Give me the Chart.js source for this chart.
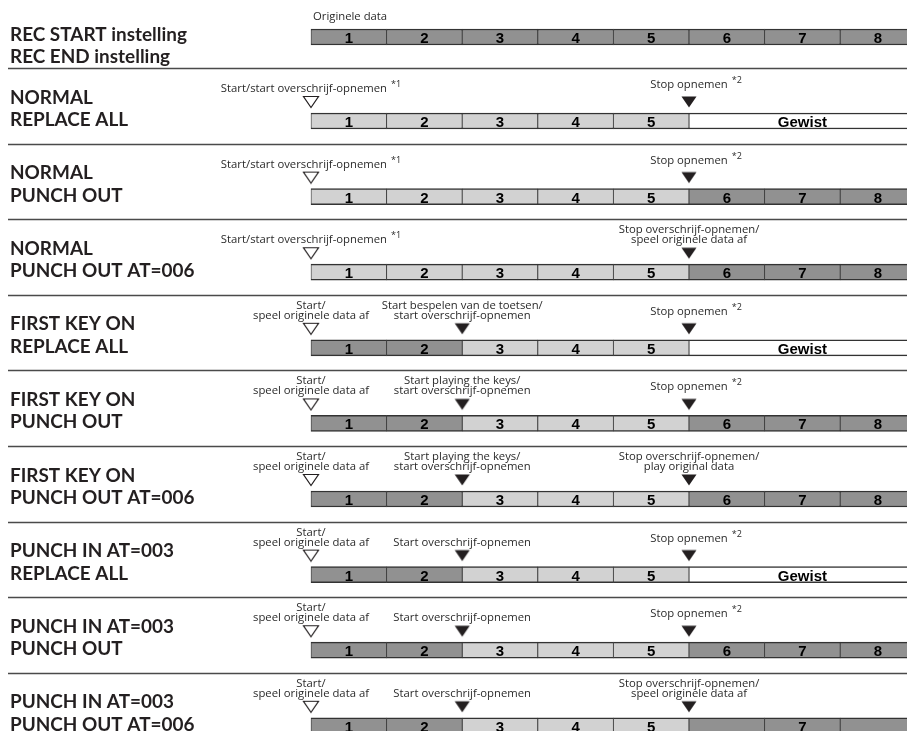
<!DOCTYPE html>
<html><head><meta charset="utf-8">
<script src="https://cdn.jsdelivr.net/npm/chart.js@4.4.0/dist/chart.umd.min.js"></script>
<style>html,body{margin:0;padding:0;background:#fff;}#wrap{width:907px;height:731px;}</style>
</head><body><div id="wrap"><canvas id="c" width="907" height="731"></canvas></div>
<script>
// ---------------- data ----------------
const rowTitles = [
  ["REC START instelling", "REC END instelling"],
  ["NORMAL", "REPLACE ALL"],
  ["NORMAL", "PUNCH OUT"],
  ["NORMAL", "PUNCH OUT AT=006"],
  ["FIRST KEY ON", "REPLACE ALL"],
  ["FIRST KEY ON", "PUNCH OUT"],
  ["FIRST KEY ON", "PUNCH OUT AT=006"],
  ["PUNCH IN AT=003", "REPLACE ALL"],
  ["PUNCH IN AT=003", "PUNCH OUT"],
  ["PUNCH IN AT=003", "PUNCH OUT AT=006"]
];
const measures = [1, 2, 3, 4, 5, 6, 7, 8];
// O = original data, R = recorded (overwritten), E = erased
const measureStatus = [
  "OOOOOOOO", "RRRRREEE", "RRRRROOO", "RRRRROOO", "OORRREEE",
  "OORRROOO", "OORRROOO", "OORRREEE", "OORRROOO", "OORRROOO"
];
const erasedLabel = "Gewist";
const hiddenNumbers = [[], [], [], [], [], [], [], [], [], [6, 8]];
const headerNote = "Originele data";
// marker positions (measure boundaries)
const openStartAt = [null, 0, 0, 0, 0, 0, 0, 0, 0, 0];
const fillStartAt = [null, null, null, null, 2, 2, 2, 2, 2, 2];
const stopAt      = [null, 5, 5, 5, 5, 5, 5, 5, 5, 5];
// marker notes
const startNotes = [null,
  ["Start/start overschrijf-opnemen"], ["Start/start overschrijf-opnemen"], ["Start/start overschrijf-opnemen"],
  ["Start/", "speel originele data af"], ["Start/", "speel originele data af"], ["Start/", "speel originele data af"],
  ["Start/", "speel originele data af"], ["Start/", "speel originele data af"], ["Start/", "speel originele data af"]
];
const startSup = [null, "*1", "*1", "*1", "", "", "", "", "", ""];
const midNotes = [null, null, null, null,
  ["Start bespelen van de toetsen/", "start overschrijf-opnemen"],
  ["Start playing the keys/", "start overschrijf-opnemen"],
  ["Start playing the keys/", "start overschrijf-opnemen"],
  ["Start overschrijf-opnemen"], ["Start overschrijf-opnemen"], ["Start overschrijf-opnemen"]
];
const stopNotes = [null,
  ["Stop opnemen"], ["Stop opnemen"], ["Stop overschrijf-opnemen/", "speel originele data af"],
  ["Stop opnemen"], ["Stop opnemen"], ["Stop overschrijf-opnemen/", "play original data"],
  ["Stop opnemen"], ["Stop opnemen"], ["Stop overschrijf-opnemen/", "speel originele data af"]
];
const stopSup = [null, "*2", "*2", "", "*2", "*2", "", "*2", "*2", ""];

// ---------------- layout / style ----------------
const W = 907, H = 731;
const ROW_PX = 75.6;          // pixel distance between rows
const BAR_LEFT = 311;         // pixel of measure boundary 0
const FIRST_ROW_Y = 121;      // pixel centre of row 1
const HEADER_GAP = 84;        // pixel distance header row -> row 1
const COL = { O: '#919191', R: '#d2d2d2', E: '#ffffff' };
const INK = '#231f20';
const rowValue = k => k === 0 ? 1 - HEADER_GAP / ROW_PX : k;

const ctx0 = document.getElementById('c').getContext('2d');
function fit(text, font, target) { ctx0.font = font.replace('SIZE', '100px'); return 100 * target / ctx0.measureText(text).width; }
const TITLE_FONT = "bold SIZE Lato, 'DejaVu Sans', sans-serif";
const NOTE_FONT = "SIZE 'Open Sans', 'DejaVu Sans', sans-serif";
const titleSize = fit("REC START instelling", TITLE_FONT, 177);
const noteSize = fit("speel originele data af", NOTE_FONT, 116);
const tf = TITLE_FONT.replace('SIZE', titleSize.toFixed(2) + 'px');
const nf = NOTE_FONT.replace('SIZE', noteSize.toFixed(2) + 'px');
const sf = NOTE_FONT.replace('SIZE', (noteSize * 0.8).toFixed(2) + 'px');
const numFont = "bold 15px 'Liberation Sans', Arial, sans-serif";

// triangle images
function tri(filled) {
  const c = document.createElement('canvas'); c.width = 18; c.height = 14;
  const g = c.getContext('2d');
  g.beginPath(); g.moveTo(1.5, 1.5); g.lineTo(16.5, 1.5); g.lineTo(9, 12.5); g.closePath();
  if (filled) { g.fillStyle = INK; g.fill(); }
  else { g.fillStyle = '#fff'; g.fill(); g.strokeStyle = INK; g.lineWidth = 1.2; g.stroke(); }
  return c;
}
const openTri = tri(false), fillTri = tri(true);

// ---------------- datasets ----------------
function segs(type) {
  const out = [];
  measureStatus.forEach((s, k) => {
    if (type === 'E') {
      const i = s.indexOf('E');
      if (i >= 0) out.push({ x: [i, measures.length], y: rowValue(k) });
    } else {
      for (let i = 0; i < s.length; i++) if (s[i] === type) out.push({ x: [measures[i] - 1, measures[i]], y: rowValue(k) });
    }
  });
  return out;
}
const MARK_LIFT = 19 / ROW_PX;
function marks(arr) {
  const out = [];
  arr.forEach((v, k) => { if (v !== null) out.push({ x: v, y: rowValue(k) - MARK_LIFT }); });
  return out;
}
const barBase = { type: 'bar', indexAxis: 'y', barThickness: 16, grouped: false, borderColor: '#333',
  borderWidth: { top: 1.5, bottom: 1.5, left: 0.8, right: 0.8 }, borderSkipped: false };
const datasets = [
  Object.assign({ label: 'Original', data: segs('O'), backgroundColor: COL.O }, barBase),
  Object.assign({ label: 'Recorded', data: segs('R'), backgroundColor: COL.R }, barBase),
  Object.assign({ label: 'Erased', data: segs('E'), backgroundColor: COL.E }, barBase),
  { type: 'scatter', label: 'start', data: marks(openStartAt), pointStyle: openTri, pointRadius: 8, pointHoverRadius: 8 },
  { type: 'scatter', label: 'mid', data: marks(fillStartAt), pointStyle: fillTri, pointRadius: 8, pointHoverRadius: 8 },
  { type: 'scatter', label: 'stop', data: marks(stopAt), pointStyle: fillTri, pointRadius: 8, pointHoverRadius: 8 }
];

// ---------------- drawing plugin ----------------
const diagram = {
  id: 'diagram',
  beforeDatasetsDraw(chart) {
    const c = chart.ctx, ys = chart.scales.y;
    c.save(); c.strokeStyle = '#4a4a4a'; c.lineWidth = 1.4;
    for (let k = 1; k < rowTitles.length; k++) {
      const y = Math.round(ys.getPixelForValue(rowValue(k)) - 53) + 0.5;
      c.beginPath(); c.moveTo(8, y); c.lineTo(W, y); c.stroke();
    }
    c.restore();
  },
  afterDatasetsDraw(chart) {
    const c = chart.ctx, xs = chart.scales.x, ys = chart.scales.y;
    c.save();
    c.fillStyle = INK; c.textBaseline = 'alphabetic';
    rowTitles.forEach((t, k) => {
      const cy = ys.getPixelForValue(rowValue(k));
      c.font = tf; c.textAlign = 'left'; c.fillStyle = INK;
      const b1 = k === 0 ? cy + 4 : cy - 17.5, b2 = k === 0 ? cy + 26 : cy + 5;
      c.fillText(t[0], 10, b1); c.fillText(t[1], 10, b2);
      c.font = numFont; c.textAlign = 'center'; c.fillStyle = '#000';
      const st = measureStatus[k];
      measures.forEach((m, i) => {
        if (st[i] === 'E' || hiddenNumbers[k].includes(m)) return;
        c.fillText(String(m), xs.getPixelForValue(m - 0.5), cy + 6);
      });
      const e = st.indexOf('E');
      if (e >= 0) c.fillText(erasedLabel, xs.getPixelForValue((e + measures.length) / 2), cy + 6);
      c.fillStyle = '#2a2a2a';
      if (k === 0) { c.font = nf; c.textAlign = 'left'; c.fillText(headerNote, xs.getPixelForValue(0) + 2, cy - 17.5); }
      const drawNote = (lines, x, sup, whole, singleBase) => {
        if (!lines) return;
        c.font = nf;
        if (lines.length === 2) {
          c.textAlign = 'center';
          c.fillText(lines[0], x, cy - 39); c.fillText(lines[1], x, cy - 29);
        } else {
          const wm = c.measureText(lines[0]).width;
          let ws = 0;
          if (sup) { c.font = sf; ws = c.measureText(sup).width + 4; c.font = nf; }
          const left = whole ? x - (wm + ws) / 2 : x - wm / 2;
          c.textAlign = 'left';
          c.fillText(lines[0], left, cy + singleBase);
          if (sup) { c.font = sf; c.fillText(sup, left + wm + 4, cy + singleBase - 5); }
        }
      };
      if (openStartAt[k] !== null) drawNote(startNotes[k], xs.getPixelForValue(openStartAt[k]), startSup[k], true, -29);
      if (fillStartAt[k] !== null) drawNote(midNotes[k], xs.getPixelForValue(fillStartAt[k]), '', false, -29);
      if (stopAt[k] !== null) drawNote(stopNotes[k], xs.getPixelForValue(stopAt[k]), stopSup[k], false, -33);
    });
    c.restore();
  }
};

const yMin = 1 - FIRST_ROW_Y / ROW_PX;
const axisOff = { display: false, offset: false, grace: 0, beginAtZero: false, grid: { display: false, offset: false }, ticks: { display: false }, border: { display: false } };
new Chart(document.getElementById('c'), {
  type: 'bar',
  data: { datasets },
  options: {
    responsive: false, maintainAspectRatio: false, animation: false, devicePixelRatio: 1,
    layout: { padding: 0, autoPadding: false },
    plugins: { legend: { display: false }, tooltip: { enabled: false } },
    scales: {
      x: Object.assign({ type: 'linear', min: -BAR_LEFT / ROW_PX, max: (W - BAR_LEFT) / ROW_PX }, axisOff),
      y: Object.assign({ type: 'linear', reverse: true, min: yMin, max: yMin + H / ROW_PX }, axisOff)
    }
  },
  plugins: [diagram]
});
</script></body></html>
